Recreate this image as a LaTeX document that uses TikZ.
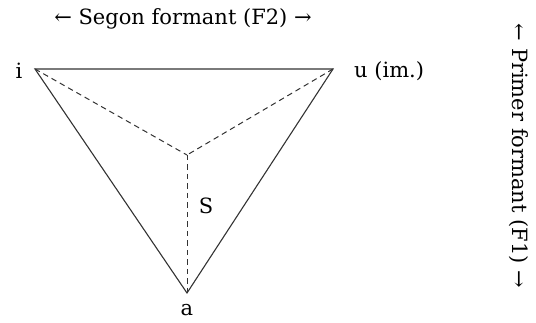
\documentclass[tikz,border=0pt]{standalone}
\usepackage{fontspec}
\setmainfont{DejaVu Serif}
\begin{document}
\begin{tikzpicture}[x=1pt,y=-1pt,
  edge/.style={draw=black!80,line width=1.1pt},
  dashedge/.style={draw=black!80,line width=1pt,dash pattern=on 5.5pt off 4pt},
  lab/.style={font=\fontsize{21}{25}\selectfont,inner sep=0pt}]
\useasboundingbox (0,0) rectangle (536,323);
\coordinate (I) at (35,69);
\coordinate (U) at (333,69);
\coordinate (C) at (187,155);
\coordinate (A) at (187,293);
\draw[edge] (I) -- (U) -- (A) -- cycle;
\draw[dashedge] (I) -- (C);
\draw[dashedge] (U) -- (C);
\draw[dashedge] (C) -- (A);
\node[lab] (li) at (19,71) {i};
\node[lab,anchor=west] (lu) at (354,71) {u (im.)};
\node[lab] (la) at (187,310) {a};
\node[lab] (ls) at (206,206) {S};
\node[lab] (top) at (183,19) {← Segon formant (F2) →};
\node[lab,rotate=-90] (side) at (519,156) {← Primer formant (F1) →};
\end{tikzpicture}
\end{document}
